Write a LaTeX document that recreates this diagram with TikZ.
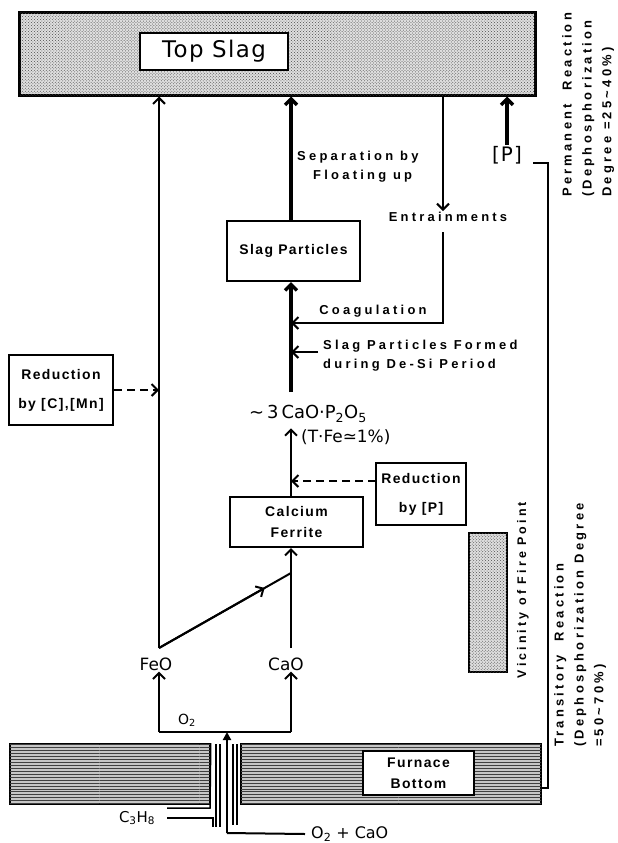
\documentclass[tikz,border=0pt]{standalone}
\usepackage{fontspec}
\setmainfont{Liberation Sans}
\newfontfamily\plotfont{DejaVu Sans}
\newfontfamily\widefont[LetterSpace=6]{DejaVu Sans}
\newfontfamily\spacedfont[LetterSpace=25]{Liberation Sans}
\newfontfamily\boxfont[LetterSpace=10]{Liberation Sans}
\usepackage{tikz}
\usetikzlibrary{arrows.meta,patterns,calc}
\tikzstyle{connector} = [line width=2bp]
\tikzstyle{heavy} = [line width=3.5bp]
\tikzstyle{flow} = [-{Straight Barb[length=6bp,width=12bp]}]
\tikzstyle{inlet} = [-{Triangle[length=8bp,width=8bp]}]
\tikzstyle{dashflow} = [connector, dash pattern=on 8bp off 5bp]
\tikzstyle{wall} = [line width=1.5bp]
\tikzstyle{stipple} = [draw, inner sep=0pt, fill=gray!25, postaction={pattern=crosshatch dots, pattern color=black!70}]
\tikzstyle{streaks} = [draw, line width=1.5bp, inner sep=0pt, fill=gray!45, postaction={pattern=horizontal lines, pattern color=black!75}]
\tikzstyle{box} = [draw, line width=2bp, fill=white, inner sep=0pt, align=center, font=\boxfont\bfseries\fontsize{14}{21}\selectfont]
\tikzstyle{note} = [inner sep=1bp, align=left, font=\spacedfont\bfseries\fontsize{13}{19}\selectfont]
\tikzstyle{sidenote} = [note, rotate=90, anchor=north west, font=\spacedfont\bfseries\fontsize{13}{20}\selectfont]
\tikzstyle{chem} = [inner sep=1bp, font=\plotfont\fontsize{17}{20}\selectfont]

\begin{document}
\begin{tikzpicture}[x=1bp, y=-1bp]
\useasboundingbox (0,0) rectangle (618,843);

% bath and furnace
\node (topslag) [stipple, line width=3bp, minimum width=515bp, minimum height=82bp] at (277.5,54) {};
\node (topbox) [draw, line width=2bp, fill=white, minimum width=148bp, minimum height=37bp, font=\widefont\fontsize{23}{26}\selectfont] at (214,51.5) {Top Slag};
\node (furnl) [streaks, minimum width=200bp, minimum height=60bp] at (110,774) {};
\node (furnr) [streaks, minimum width=300bp, minimum height=60bp] at (391,774) {};
\node (furnbox) [box, minimum width=111bp, minimum height=44bp] at (418.5,773) {Furnace\\Bottom};
\node (fire) [stipple, line width=2bp, minimum width=38bp, minimum height=139bp] at (488,602.5) {};

% boxes
\node (slagp) [box, minimum width=133bp, minimum height=60bp] at (293.5,251) {Slag Particles};
\node (ferrite) [box, minimum width=133bp, minimum height=50bp] at (296.5,522) {Calcium\\Ferrite};
\node (redp) [box, minimum width=90bp, minimum height=62bp] at (421,494) {Reduction\\[8bp]by [P]};
\node (redcmn) [box, minimum width=104bp, minimum height=70bp] at (61,390) {Reduction\\[8bp]by [C],[Mn]};

% labels
\node (sep) [note, anchor=west] at (296,157) {Separation by};
\node (float) [note, anchor=west] at (312,176) {Floating up};
\node (entr) [note] at (448,217) {Entrainments};
\node (coag) [note] at (373,311) {Coagulation};
\node (formed) [note, anchor=west] at (322,356) {Slag Particles Formed\\during De-Si Period};
\node (pfree) [chem, font=\widefont\fontsize{20}{22}\selectfont] at (507,155) {[P]};
\node (cpo) [chem, font=\plotfont\fontsize{18}{20}\selectfont] at (308,414) {∼\,3\,CaO·P\textsubscript{2}O\textsubscript{5}};
\node (tfe) [chem, anchor=west, font=\plotfont\fontsize{17}{20}\selectfont] at (300,437) {(T·Fe≃1\%)};
\node (feo) [chem] at (156,664) {FeO};
\node (cao) [chem] at (286,664) {CaO};
\node (oxy) [chem, font=\plotfont\fontsize{14}{16}\selectfont] at (187,720) {O\textsubscript{2}};
\node (prop) [chem, font=\plotfont\fontsize{15}{16}\selectfont] at (137,818) {C\textsubscript{3}H\textsubscript{8}};
\node (blow) [chem, anchor=west, font=\plotfont\fontsize{16}{18}\selectfont] at (310,834) {O\textsubscript{2} + CaO};
\node (perm) [sidenote] at (561,198) {Permanent\ \ Reaction\\(Dephosphorization\\Degree =25\textasciitilde40\%)};
\node (trans) [sidenote] at (553,748) {Transitory\ \ Reaction\\(Dephosphorization Degree\\=50\textasciitilde70\%)};
\node (vicinity) [note, rotate=90, font=\spacedfont\bfseries\fontsize{12.5}{14}\selectfont] at (523,590) {Vicinity of Fire Point};

\coordinate (fetop) at (159,648);
\coordinate (catop) at (291,648);
\coordinate (cfjoin) at (291,573);
\coordinate (redpin) at (376,481);
\coordinate (entx) at (443,232);
\coordinate (coagbend) at (443,323);
\coordinate (dsi) at (291,392);
\coordinate (dsiarrow) at (318,352);
\coordinate (o2join) at (227,732);
\coordinate (inlet) at (227,833);
\coordinate (brtop) at (533,163);
\coordinate (brbot) at (548,788);

% flows
\draw [connector, flow] (fetop) -- (fetop |- topslag.south);
\draw [connector] (fetop) -- (cfjoin);
\draw [connector, flow] (fetop) -- ($(fetop)!0.8!(cfjoin)$);
\draw [connector, flow] (catop) -- (catop |- ferrite.south);
\draw [connector, flow] (catop |- ferrite.north) -- (catop |- tfe.north);
\draw [dashflow, flow] (redpin) -- (catop |- redpin);
\draw [heavy, flow] (dsi) -- (catop |- slagp.south);
\draw [connector, flow] (dsiarrow) -- (catop |- dsiarrow);
\draw [connector, flow] (entx) -- (coagbend) -- (catop |- coagbend);
\draw [heavy, flow] (catop |- slagp.north) -- (catop |- topslag.south);
\draw [connector, flow] (topslag.south -| entx) -- (entr.north -| entx);
\draw [heavy, flow] (pfree.north) -- (pfree.north |- topslag.south);
\draw [dashflow, flow] (redcmn.east) -- (fetop |- redcmn.east);
\draw [connector] (brtop) -- (brtop -| brbot) -- (brbot) -- (brbot -| furnr.east);

% tuyere
\draw [connector] (fetop |- o2join) -- (catop |- o2join);
\draw [connector, flow] (fetop |- o2join) -- (fetop |- feo.south);
\draw [connector, flow] (catop |- o2join) -- (catop |- cao.south);
\draw [connector, inlet] (inlet) -- (o2join);
\draw [connector] (inlet) -- ([xshift=-5bp]blow.west);
\draw [wall] (furnl.north east) -- (210,808) -- (167,808);
\draw [wall] (167,818) -- (213,818) -- (213,827);
\draw [wall] (216,744) -- (216,827);
\draw [wall] (220,744) -- (220,827);
\draw [wall] (233,744) -- (233,825);
\draw [wall] (237,744) -- (237,825);
\end{tikzpicture}
\end{document}
